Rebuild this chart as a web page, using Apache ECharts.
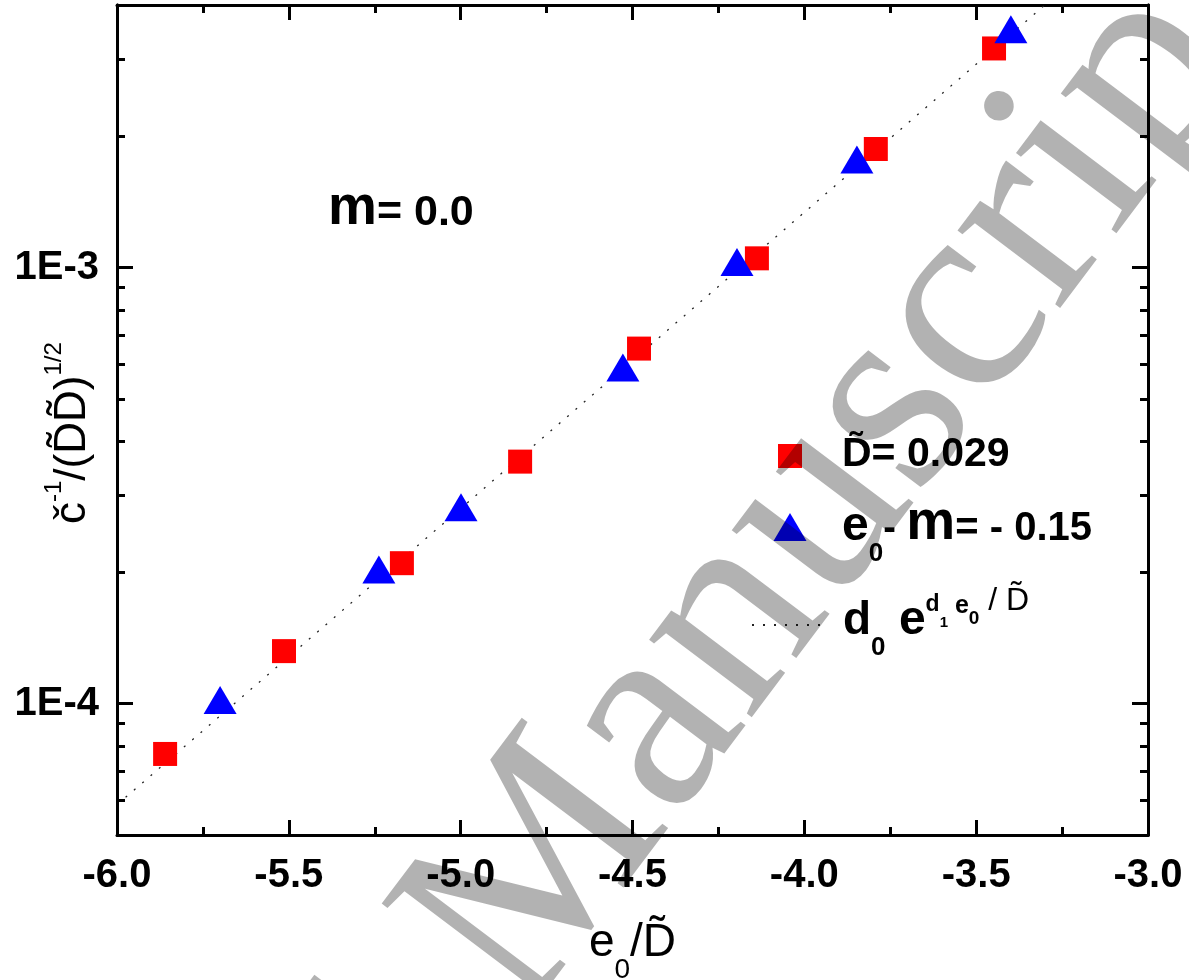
<!DOCTYPE html>
<html><head><meta charset="utf-8">
<script src="https://cdn.jsdelivr.net/npm/echarts@6/dist/echarts.min.js"></script>
<style>html,body{margin:0;padding:0;background:#fff;}#c{width:1189px;height:980px;}</style>
</head><body><div id="c"></div>
<script>
// ---- data ----
const redX  = [-5.860, -5.514, -5.171, -4.827, -4.481, -4.138, -3.792, -3.448];
const redY  = [7.67e-5, 1.32e-4, 2.10e-4, 3.59e-4, 6.52e-4, 1.05e-3, 1.87e-3, 3.18e-3];
const blueX = [-5.700, -5.238, -4.999, -4.528, -4.196, -3.847, -3.399];
const blueY = [1.02e-4, 2.03e-4, 2.82e-4, 5.90e-4, 1.03e-3, 1.77e-3, 3.52e-3];
const fitX  = [-5.975, -3.300];
const fitY  = [6.1e-5, 4.0e-3];
const xMin = -6, xMax = -3, xStep = 0.5;
const yMin = 5e-5, yMax = 4e-3;
const yMajorTicks = [1e-4, 1e-3];
const yMinorTicks = [6e-5, 7e-5, 8e-5, 9e-5, 2e-4, 3e-4, 4e-4, 5e-4, 6e-4, 7e-4, 8e-4, 9e-4, 2e-3, 3e-3];
const seriesNames = ['red', 'blue', 'fit'];

const zip = (a, b) => a.map((v, i) => [v, b[i]]);
const FONT = '"Liberation Sans", Arial, Helvetica, sans-serif';
// rich-text token placed so that its baseline lands at `bl`, in a line whose top is T and height H
const tk = (f, w, bl, T, H, extra) => Object.assign({
  fontSize: f, fontWeight: w, fontFamily: FONT, color: '#000', lineHeight: H, verticalAlign: 'top',
  padding: [Math.max(0, bl - T - 0.8465 * f), 0, 0, 0]
}, extra || {});

function xAx(pos, showLabel, extra) {
  return Object.assign({
    type: 'value', position: pos, min: xMin, max: xMax, interval: xStep,
    axisLine: {show: true, onZero: false, lineStyle: {color: '#000', width: 3}},
    axisTick: {show: true, inside: true, length: 15, lineStyle: {color: '#000', width: 3}},
    minorTick: {show: true, splitNumber: 2, length: 8, lineStyle: {color: '#000', width: 3}},
    splitLine: {show: false}, minorSplitLine: {show: false},
    axisLabel: {show: showLabel, margin: 21, fontSize: 40, fontWeight: 'bold', color: '#000', fontFamily: FONT,
      formatter: v => v.toFixed(1)}
  }, extra || {});
}
function yAx(pos, ticks, len, showLabel, extra) {
  return Object.assign({
    type: 'log', logBase: 10, position: pos, min: yMin, max: yMax,
    axisLine: {show: true, onZero: false, lineStyle: {color: '#000', width: 3}},
    axisTick: {show: true, inside: true, length: len, customValues: ticks, lineStyle: {color: '#000', width: 3}},
    minorTick: {show: false}, splitLine: {show: false}, minorSplitLine: {show: false},
    axisLabel: {show: showLabel, customValues: yMajorTicks, margin: 18, fontSize: 40, fontWeight: 'bold', color: '#000', fontFamily: FONT,
      formatter: v => '1E' + Math.round(Math.log10(v))}
  }, extra || {});
}

// x-axis title
const xGap = 85, xT = 915, xH = 64;
const xName = {
  name: '{e|e}{s|0}{d|/D\u0303}',
  nameLocation: 'middle', nameGap: xGap, nameMoveOverlap: false,
  nameTextStyle: {rich: {
    e: tk(46, 'normal', 954, xT, xH),
    s: tk(28, 'normal', 975, xT, xH),
    d: tk(46, 'normal', 954, xT, xH)
  }}
};

// y-axis title: rotated text starting at the bottom (y = 524), top edge of the line box at x = 30
const yTT = 30, yH = 67;
const yTitle = {
  type: 'text', x: yTT, y: 524, rotation: Math.PI / 2, z: 10,
  style: {
    text: '{c|\u010d}{s|-1}{m|/(D\u0303D\u0303)}{s|1/2}', align: 'left', verticalAlign: 'top',
    rich: {
      c: tk(44, 'normal', 88, yTT, yH),
      m: tk(44, 'normal', 88, yTT, yH),
      s: tk(24, 'normal', 63, yTT, yH)
    }
  }
};

// legends (one per entry so each sits where the reference has it)
const L1c = 456, L1H = 44, L1T = L1c - L1H / 2;
const L2c = 527, L2H = 80, L2T = L2c - L2H / 2;
const L3c = 625, L3H = 100, L3T = L3c - L3H / 2;
const legends = [
  {data: [seriesNames[0]], left: 778, top: L1T, padding: 0, itemWidth: 24, itemHeight: 24, selectedMode: false,
   formatter: () => '{sp| }{a|D\u0303= 0.029}',
   textStyle: {rich: {sp: {width: 35, lineHeight: L1H, fontSize: 12}, a: tk(41, 'bold', 469, L1T, L1H)}}},
  {data: [seriesNames[1]], left: 773.5, top: L2T, padding: 0, itemWidth: 33, itemHeight: 28, selectedMode: false,
   formatter: () => '{sp| }{e|e}{s|0}{t|- }{m|m}{t2|= - 0.15}',
   textStyle: {rich: {
     sp: {width: 30.5, lineHeight: L2H, fontSize: 12},
     e: tk(48, 'bold', 543, L2T, L2H),
     s: tk(26, 'bold', 563, L2T, L2H),
     t: tk(38, 'bold', 543, L2T, L2H),
     t2: tk(40, 'bold', 543, L2T, L2H),
     m: tk(55, 'bold', 543, L2T, L2H)
   }}},
  {data: [seriesNames[2]], left: 751, top: L3T, padding: 0, itemWidth: 74, itemHeight: 14, selectedMode: false,
   itemStyle: {color: 'rgba(0,0,0,0)', borderWidth: 0, opacity: 0},
   formatter: () => '{sp| }{d|d}{s|0}{e| e}{pd|d}{p1|1}{pe| e}{p0|0}{pD| / D\u0303}',
   textStyle: {rich: {
     sp: {width: 12, lineHeight: L3H, fontSize: 12},
     d: tk(46, 'bold', 637, L3T, L3H),
     s: tk(26, 'bold', 657, L3T, L3H),
     e: tk(48, 'bold', 637, L3T, L3H),
     pd: tk(23, 'bold', 613, L3T, L3H),
     p1: tk(15, 'bold', 628, L3T, L3H),
     pe: tk(25, 'bold', 615, L3T, L3H),
     p0: tk(19, 'bold', 625, L3T, L3H),
     pD: tk(32, 'normal', 612, L3T, L3H)
   }}}
];

// watermark geometry
const wmF = 280, wmRot = 53 * Math.PI / 180;
const bdir = [Math.cos(wmRot), -Math.sin(wmRot)], udir = [-Math.sin(wmRot), -Math.cos(wmRot)];
const m0 = [540, 1033];
const wmA = [m0[0] + 0.3375 * wmF * udir[0], m0[1] + 0.3375 * wmF * udir[1]];
const wmB = [wmA[0] - 0.25 * wmF * bdir[0], wmA[1] - 0.25 * wmF * bdir[1]];
const wmStyle = {fill: 'rgba(0,0,0,0.3)', fontSize: wmF, fontFamily: '"Liberation Serif", "DejaVu Serif", serif', verticalAlign: 'middle'};

const mT = 180, mH = 60;
const option = {
  animation: false,
  backgroundColor: '#fff',
  grid: {left: 117, right: 41, top: 5, bottom: 145, containLabel: false, outerBoundsMode: 'none'},
  xAxis: [xAx('bottom', true, xName), xAx('top', false)],
  yAxis: [yAx('left', yMajorTicks, 16, true), yAx('left', yMinorTicks, 8, false),
          yAx('right', yMajorTicks, 16, false), yAx('right', yMinorTicks, 8, false)],
  legend: legends,
  series: [
    {name: seriesNames[2], type: 'line', data: zip(fitX, fitY), symbol: 'none', z: 2, silent: true,
     lineStyle: {color: '#222', width: 1.3, type: [2, 9]}, itemStyle: {color: '#000'}},
    {name: seriesNames[0], type: 'scatter', data: zip(redX, redY), symbol: 'rect', symbolSize: 24, z: 3,
     itemStyle: {color: '#ff0000', opacity: 1}},
    {name: seriesNames[1], type: 'scatter', data: zip(blueX, blueY), symbol: 'triangle', symbolSize: [33, 28], z: 4,
     itemStyle: {color: '#0000ff', opacity: 1}}
  ],
  graphic: [
    yTitle,
    {type: 'text', x: 328, y: mT, z: 10, style: {
      text: '{m|m}{t|= 0.0}', verticalAlign: 'top',
      rich: {m: tk(55, 'bold', 228, mT, mH), t: tk(43, 'bold', 228, mT, mH)}}},
    {type: 'text', x: wmA[0], y: wmA[1], rotation: wmRot, z: 100, silent: true,
     style: Object.assign({text: 'Manuscript', align: 'left'}, wmStyle)},
    {type: 'text', x: wmB[0], y: wmB[1], rotation: wmRot, z: 100, silent: true,
     style: Object.assign({text: 'Accepted', align: 'right'}, wmStyle)}
  ]
};
const chart = echarts.init(document.getElementById('c'), null, {renderer: 'canvas', width: 1189, height: 980});
chart.setOption(option);
</script>
</body></html>
